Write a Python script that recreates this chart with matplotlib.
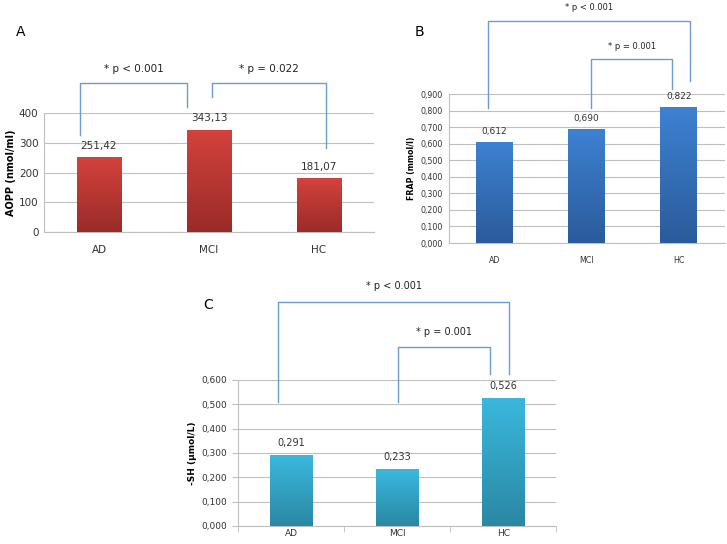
import numpy as np
import matplotlib.pyplot as plt
from matplotlib.colors import LinearSegmentedColormap

categories = ["AD", "MCI", "HC"]

aopp = [251.42, 343.13, 181.07]
aopp_labels = ["251,42", "343,13", "181,07"]

frap = [0.612, 0.690, 0.822]
frap_labels = ["0,612", "0,690", "0,822"]

sh = [0.291, 0.233, 0.526]
sh_labels = ["0,291", "0,233", "0,526"]

grid_col = "#bfbfbf"
br_col = "#6f9bd2"


def gradient_bars(ax, vals, top, bottom):
    cmap = LinearSegmentedColormap.from_list("g", [bottom, top])
    grad = np.linspace(0, 1, 256).reshape(-1, 1)
    bars = ax.bar(range(len(vals)), vals, width=0.4, color="none", zorder=3)
    for b in bars:
        x0, y0 = b.get_x(), b.get_y()
        im = ax.imshow(grad, cmap=cmap, origin="lower", aspect="auto",
                       extent=[x0, x0 + b.get_width(), y0, y0 + b.get_height()],
                       zorder=3)
        im.set_clip_path(b)
    return bars


def style(ax, ymax, step, fmt, fs, ylabel, lfs, xpad=9):
    ax.set_xlim(-0.5, 2.5)
    ax.set_ylim(0, ymax)
    ticks = np.arange(0, ymax + step / 2, step)
    ax.set_yticks(ticks)
    ax.set_yticklabels([fmt(t) for t in ticks], fontsize=fs, color="#333333")
    ax.set_xticks(range(3))
    ax.set_xticklabels(categories, fontsize=fs, color="#333333")
    ax.yaxis.grid(True, color=grid_col, lw=0.8, zorder=0)
    ax.set_axisbelow(True)
    for s in ["top", "right"]:
        ax.spines[s].set_visible(False)
    for s in ["left", "bottom"]:
        ax.spines[s].set_color(grid_col)
    ax.tick_params(length=0, pad=4)
    ax.tick_params(axis="x", pad=xpad)
    ax.set_ylabel(ylabel, fontsize=lfs, fontweight="bold", labelpad=3)


def bracket(ax, x1, x2, y1, y2, ytop, text, ytext, fs):
    ax.plot([x1, x1, x2, x2], [y1, ytop, ytop, y2], color=br_col, lw=1.0,
            clip_on=False, zorder=4)
    ax.text((x1 + x2) / 2, ytext, text, ha="center", va="center",
            fontsize=fs, color="#222222", clip_on=False)


fig = plt.figure(figsize=(7.27, 5.44), dpi=100)

# panel A
axA = fig.add_axes([0.0605, 0.5735, 0.454, 0.2188])
gradient_bars(axA, aopp, "#d4423d", "#9a2b28")
style(axA, 400, 100, lambda t: f"{int(t)}", 7.5, "AOPP (nmol/ml)", 7)
axA.yaxis.labelpad = 2
for i, (v, l) in enumerate(zip(aopp, aopp_labels)):
    axA.text(i, v + 22, l, ha="center", va="bottom", fontsize=7.5, color="#333333")
bracket(axA, -0.17, 0.8, 326, 420, 501, "* p < 0.001", 548, 7.5)
bracket(axA, 1.03, 2.06, 454, 282, 501, "* p = 0.022", 548, 7.5)
fig.text(21 / 727, 1 - 32 / 544, "A", fontsize=10, ha="center", va="center")

# panel B
axB = fig.add_axes([0.617, 0.5533, 0.380, 0.2739])
gradient_bars(axB, frap, "#3d82d2", "#2b5b9b")
style(axB, 0.9, 0.1, lambda t: f"{t:.3f}".replace(".", ","), 5.7, "FRAP (mmol/l)", 5.7)
for i, (v, l) in enumerate(zip(frap, frap_labels)):
    axB.text(i, v + 0.035, l, ha="center", va="bottom", fontsize=6.5, color="#333333")
bracket(axB, -0.07, 2.12, 0.815, 0.979, 1.341, "* p < 0.001", 1.425, 6)
bracket(axB, 1.05, 1.93, 0.815, 0.930, 1.111, "* p = 0.001", 1.184, 6)
fig.text(419 / 727, 1 - 32 / 544, "B", fontsize=10, ha="center", va="center")

# panel C
axC = fig.add_axes([0.3274, 0.0331, 0.438, 0.2684])
gradient_bars(axC, sh, "#3bb8de", "#2a88a3")
style(axC, 0.6, 0.1, lambda t: f"{t:.3f}".replace(".", ","), 6.5, "-SH (µmol/L)", 6.5, xpad=2)
axC.set_xticks([-0.5, 0.5, 1.5, 2.5], minor=True)
axC.tick_params(axis="x", which="minor", length=4, color=grid_col)
axC.tick_params(axis="y", length=4, color=grid_col)
for i, (v, l) in enumerate(zip(sh, sh_labels)):
    axC.text(i, v + 0.03, l, ha="center", va="bottom", fontsize=7, color="#333333")
bracket(axC, -0.12, 2.05, 0.510, 0.625, 0.921, "* p < 0.001", 0.986, 7)
bracket(axC, 1.01, 1.87, 0.510, 0.625, 0.736, "* p = 0.001", 0.797, 7)
fig.text(208 / 727, 1 - 305 / 544, "C", fontsize=10, ha="center", va="center")

fig.savefig("out.png", dpi=100)
